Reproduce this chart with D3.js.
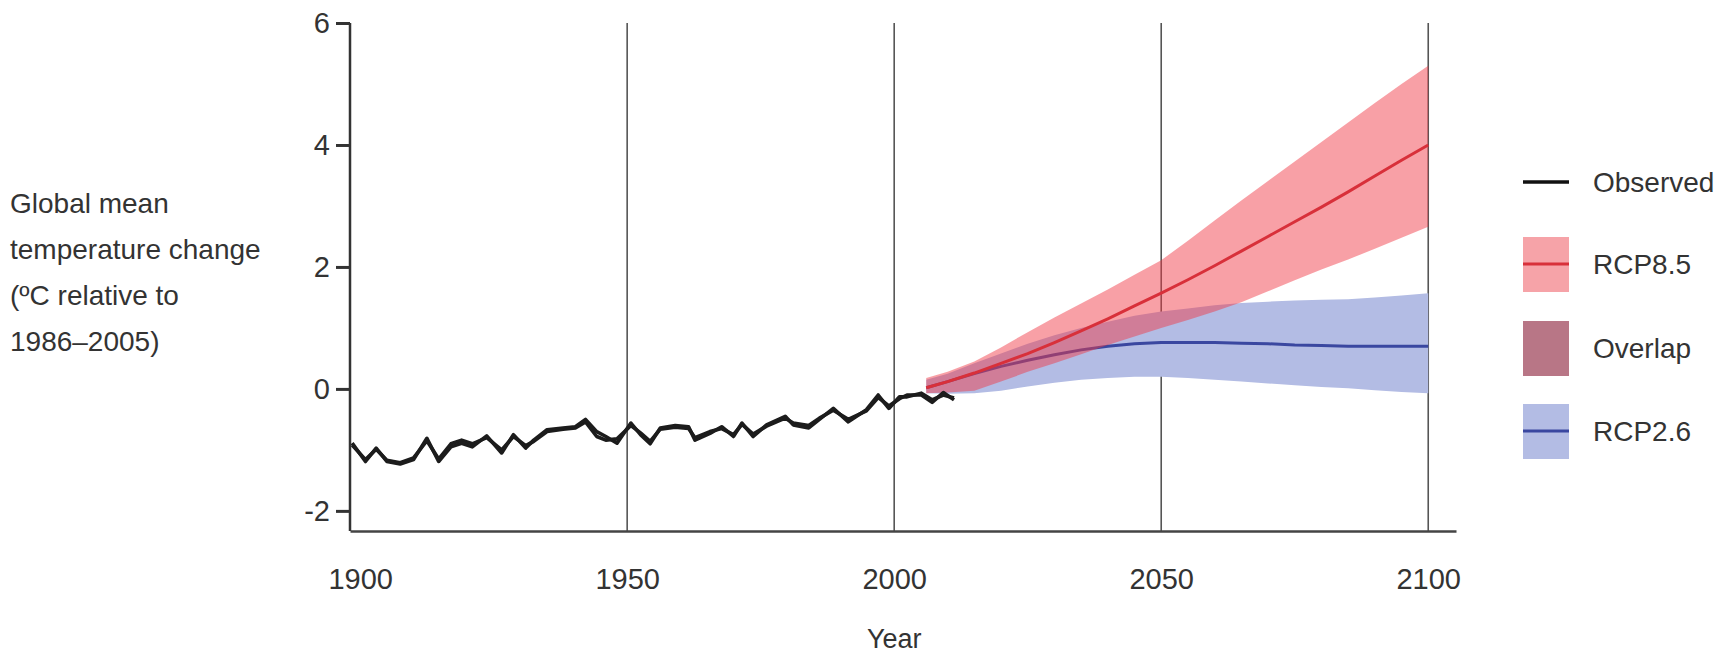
<!DOCTYPE html>
<html>
<head>
<meta charset="utf-8">
<script src="https://cdn.jsdelivr.net/npm/d3@7"></script>
<style>
  body { margin: 0; background: #fff; }
  svg text { fill: #333; font-family: "Liberation Sans", "DejaVu Sans", sans-serif; }
  .axis text { font-size: 29px; }
</style>
</head>
<body>
<div id="chart"></div>
<script>
// observed record (two data sets, nearly on top of each other)
var obsYears = [1898.5, 1901, 1903, 1905, 1907.5, 1910, 1912.5, 1914.7, 1917, 1919, 1921, 1923.7, 1926.5, 1928.7,
  1931, 1932.5, 1935, 1938, 1940.3, 1942.2, 1944.3, 1946, 1948.1, 1950.7, 1952.5, 1954.3, 1956.2, 1959, 1961.5,
  1962.7, 1965.5, 1967.7, 1969.9, 1971.5, 1973.6, 1976.1, 1979.6, 1981.1, 1984, 1986, 1988.6, 1991.4, 1994.8,
  1997, 1999, 2001, 2002.4, 2005.1, 2007.1, 2009.2, 2011.2];
var obsA = [-0.89, -1.19, -0.97, -1.19, -1.23, -1.16, -0.81, -1.19, -0.95, -0.89, -0.95, -0.77, -1.05, -0.75,
  -0.97, -0.84, -0.67, -0.64, -0.62, -0.50, -0.70, -0.78, -0.89, -0.56, -0.75, -0.90, -0.64, -0.60, -0.62,
  -0.84, -0.73, -0.62, -0.78, -0.56, -0.78, -0.59, -0.45, -0.59, -0.64, -0.50, -0.32, -0.54, -0.34,
  -0.10, -0.32, -0.13, -0.13, -0.07, -0.18, -0.10, -0.15];
var obsB = [-0.92, -1.16, -0.99, -1.17, -1.21, -1.13, -0.85, -1.15, -0.90, -0.84, -0.90, -0.80, -1.00, -0.78,
  -0.93, -0.86, -0.70, -0.66, -0.64, -0.54, -0.78, -0.84, -0.82, -0.60, -0.72, -0.86, -0.66, -0.63, -0.65,
  -0.80, -0.70, -0.65, -0.75, -0.58, -0.74, -0.61, -0.48, -0.56, -0.60, -0.48, -0.35, -0.50, -0.36,
  -0.14, -0.28, -0.16, -0.10, -0.10, -0.22, -0.06, -0.18];

// projections
var projYears = [2006, 2010, 2015, 2020, 2025, 2030, 2035, 2040, 2045, 2050, 2055, 2060, 2065, 2070, 2075, 2080, 2085, 2090, 2095, 2100];
var rcp85Mean = [0.02, 0.12, 0.26, 0.42, 0.58, 0.76, 0.95, 1.15, 1.36, 1.57, 1.79, 2.02, 2.26, 2.50, 2.74, 2.98, 3.23, 3.49, 3.75, 4.00];
var rcp85High = [0.18, 0.28, 0.45, 0.68, 0.93, 1.17, 1.40, 1.63, 1.87, 2.11, 2.43, 2.76, 3.09, 3.41, 3.73, 4.05, 4.37, 4.69, 5.00, 5.30];
var rcp85Low = [-0.07, -0.06, -0.03, 0.12, 0.28, 0.42, 0.57, 0.72, 0.86, 1.00, 1.13, 1.27, 1.42, 1.60, 1.78, 1.96, 2.12, 2.30, 2.48, 2.66];
var rcp26Mean = [0.02, 0.12, 0.25, 0.37, 0.47, 0.56, 0.64, 0.70, 0.74, 0.76, 0.76, 0.76, 0.75, 0.74, 0.72, 0.71, 0.70, 0.70, 0.70, 0.70];
var rcp26High = [0.15, 0.25, 0.42, 0.58, 0.74, 0.88, 1.00, 1.10, 1.20, 1.27, 1.32, 1.37, 1.41, 1.43, 1.45, 1.46, 1.47, 1.50, 1.53, 1.57];
var rcp26Low = [-0.07, -0.08, -0.07, -0.03, 0.04, 0.10, 0.15, 0.18, 0.20, 0.20, 0.18, 0.15, 0.12, 0.09, 0.06, 0.03, 0.01, -0.02, -0.05, -0.07];

var yTicks = [-2, 0, 2, 4, 6];
var xTicks = [1900, 1950, 2000, 2050, 2100];
var yLabelLines = ["Global mean", "temperature change", "(ºC relative to", "1986\u20132005)"];
var legendItems = ["Observed", "RCP8.5", "Overlap", "RCP2.6"];

var width = 1724, height = 669;
var svg = d3.select("#chart").append("svg").attr("width", width).attr("height", height);

var x = d3.scaleLinear().domain([1898.1, 2105.2]).range([350, 1456]);
var y = d3.scaleLinear().domain([-2.33, 6]).range([531, 23]);

// vertical grid lines
svg.append("g").selectAll("line")
    .data(xTicks.slice(1)).enter().append("line")
    .attr("x1", function(d){ return x(d) }).attr("x2", function(d){ return x(d) })
    .attr("y1", y(6)).attr("y2", y(-2.33))
    .attr("stroke", "#555").attr("stroke-width", 1.6);

var pts = function(lo, hi) {
    return projYears.map(function(yr, i){ return {x: yr, lo: lo[i], hi: hi[i]} });
};
var band = d3.area().x(function(d){ return x(d.x) }).y0(function(d){ return y(d.lo) }).y1(function(d){ return y(d.hi) });
var line = d3.line().x(function(d){ return x(d[0]) }).y(function(d){ return y(d[1]) });

// RCP2.6 below, RCP8.5 on top (translucent so the overlap shows)
svg.append("path").datum(pts(rcp26Low, rcp26High)).attr("d", band).attr("fill", "#b3bce4");
svg.append("path").datum(d3.zip(projYears, rcp26Mean)).attr("d", line)
    .attr("fill", "none").attr("stroke", "#3a47a0").attr("stroke-width", 3);
svg.append("path").datum(pts(rcp85Low, rcp85High)).attr("d", band).attr("fill", "#f03844").attr("fill-opacity", 0.48);
svg.append("path").datum(d3.zip(projYears, rcp85Mean)).attr("d", line)
    .attr("fill", "none").attr("stroke", "#d8303a").attr("stroke-width", 3);

// observed
[obsB, obsA].forEach(function(s) {
    svg.append("path").datum(d3.zip(obsYears, s)).attr("d", line)
        .attr("fill", "none").attr("stroke", "#1c1c1c").attr("stroke-width", 3.6)
        .attr("stroke-linejoin", "round");
});

// axes
var yAxis = svg.append("g").attr("class", "axis").attr("transform", "translate(350,0)")
    .call(d3.axisLeft(y).tickValues(yTicks).tickSize(14).tickSizeOuter(0).tickPadding(6).tickFormat(function(d){ return String(d) }));
yAxis.select(".domain").attr("d", "M0," + y(6) + "V" + y(-2.33)).attr("stroke", "#333").attr("stroke-width", 2.5);
yAxis.selectAll(".tick line").attr("stroke", "#333").attr("stroke-width", 3);

var xAxis = svg.append("g").attr("class", "axis").attr("transform", "translate(0,531)")
    .call(d3.axisBottom(x).tickValues(xTicks).tickSize(0).tickSizeOuter(0).tickPadding(37).tickFormat(function(d){ return String(d) }));
xAxis.select(".domain").attr("stroke", "#444").attr("stroke-width", 2.5);
xAxis.selectAll("text").attr("fill", "#333");
yAxis.selectAll("text").attr("fill", "#333");

svg.append("text").attr("x", x(2000)).attr("y", 648).attr("text-anchor", "middle")
    .style("font-size", "27px").text("Year");

// y axis title
svg.append("text").attr("x", 10).style("font-size", "28px")
    .selectAll("tspan").data(yLabelLines).enter().append("tspan")
    .attr("x", 10).attr("y", function(d, i){ return 213 + i * 46 }).text(function(d){ return d });

// legend
var lg = svg.append("g").attr("transform", "translate(1523,0)");
var rowY = [182, 264, 348, 431];
lg.append("line").attr("x1", 0).attr("x2", 46).attr("y1", rowY[0]).attr("y2", rowY[0]).attr("stroke", "#111").attr("stroke-width", 3.5);
lg.append("rect").attr("x", 0).attr("y", rowY[1] - 27).attr("width", 46).attr("height", 55).attr("fill", "#f6a3a8");
lg.append("line").attr("x1", 0).attr("x2", 46).attr("y1", rowY[1]).attr("y2", rowY[1]).attr("stroke", "#d8303a").attr("stroke-width", 3);
lg.append("rect").attr("x", 0).attr("y", rowY[2] - 27).attr("width", 46).attr("height", 55).attr("fill", "#b87686");
lg.append("rect").attr("x", 0).attr("y", rowY[3] - 27).attr("width", 46).attr("height", 55).attr("fill", "#b3bce4");
lg.append("line").attr("x1", 0).attr("x2", 46).attr("y1", rowY[3]).attr("y2", rowY[3]).attr("stroke", "#3a47a0").attr("stroke-width", 3);
lg.selectAll("text.lbl").data(legendItems).enter().append("text").attr("class", "lbl")
    .attr("x", 70).attr("y", function(d, i){ return rowY[i] + 10 })
    .style("font-size", "28px").text(function(d){ return d });
</script>
</body>
</html>
